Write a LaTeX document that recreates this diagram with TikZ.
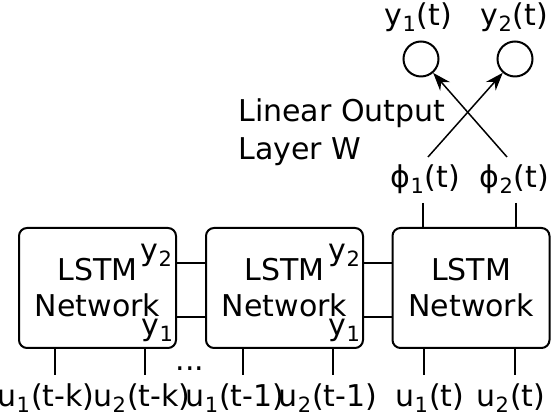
\documentclass[tikz,border=0pt]{standalone}
\usepackage{fontspec}
\setmainfont{DejaVu Sans}
\usetikzlibrary{arrows.meta}

\begin{document}
\begin{tikzpicture}[x=0.5pt, y=-0.5pt, font=\fontsize{15}{18}\selectfont,
        lstm/.style={draw, line width=1pt, rounded corners=4pt, minimum width=78.5pt, minimum height=60pt, align=center, inner sep=0pt},
        unit/.style={circle, draw, line width=1pt, minimum size=17.5pt, inner sep=0pt},
        lbl/.style={inner sep=0pt, anchor=base},
        wire/.style={line width=0.7pt},
        feed/.style={line width=1.1pt},
        weight/.style={line width=0.75pt, -{Stealth[length=9pt, width=6.5pt]}}]
        \useasboundingbox (0,0) rectangle (552,416);
        % LSTM blocks
        \node [lstm] (net1) at (97.5,288) {LSTM\\Network};
        \node [lstm] (net2) at (284.5,288) {LSTM\\Network};
        \node [lstm] (net3) at (471,288) {LSTM\\Network};
        \node [lbl] (ya2) at (157,261) {y\textsubscript{2}};
        \node [lbl] (ya1) at (158,336) {y\textsubscript{1}};
        \node [lbl] (yb2) at (345,261) {y\textsubscript{2}};
        \node [lbl] (yb1) at (345,336) {y\textsubscript{1}};
        \draw[wire] ([yshift=12.5pt]net1.east) -- ([yshift=12.5pt]net2.west);
        \draw[wire] ([yshift=-14.5pt]net1.east) -- ([yshift=-14.5pt]net2.west);
        \draw[wire] ([yshift=12.5pt]net2.east) -- ([yshift=12.5pt]net3.west);
        \draw[wire] ([yshift=-14.5pt]net2.east) -- ([yshift=-14.5pt]net3.west);
        % inputs
        \coordinate (i11) at (55,375);
        \coordinate (i12) at (145,375);
        \coordinate (i21) at (243,375);
        \coordinate (i22) at (333,375);
        \coordinate (i31) at (424,375);
        \coordinate (i32) at (515,375);
        \draw[feed] (i11) -- (i11 |- net1.south);
        \draw[feed] (i12) -- (i12 |- net1.south);
        \draw[feed] (i21) -- (i21 |- net2.south);
        \draw[feed] (i22) -- (i22 |- net2.south);
        \draw[feed] (i31) -- (i31 |- net3.south);
        \draw[feed] (i32) -- (i32 |- net3.south);
        \node [lbl] (u11) at (46,407) {u\textsubscript{1}(t-k)};
        \node [lbl] (u12) at (142,407) {u\textsubscript{2}(t-k)};
        \node [lbl] (u21) at (235,407) {u\textsubscript{1}(t-1)};
        \node [lbl] (u22) at (328,407) {u\textsubscript{2}(t-1)};
        \node [lbl] (u31) at (430,407) {u\textsubscript{1}(t)};
        \node [lbl] (u32) at (511,407) {u\textsubscript{2}(t)};
        \node [lbl] (dots) at (190,371) {...};
        % output layer
        \coordinate (f1) at (423,203);
        \coordinate (f2) at (516,203);
        \draw[feed] (f1) -- (f1 |- net3.north);
        \draw[feed] (f2) -- (f2 |- net3.north);
        \node [lbl] (phi1) at (425.5,188) {ϕ\textsubscript{1}(t)};
        \node [lbl] (phi2) at (514.5,188) {ϕ\textsubscript{2}(t)};
        \node [unit] (out1) at (421,59) {};
        \node [unit] (out2) at (515,59) {};
        \node [lbl] (yo1) at (418.5,26) {y\textsubscript{1}(t)};
        \node [lbl] (yo2) at (514.5,26) {y\textsubscript{2}(t)};
        \coordinate (s1) at (428,157);
        \coordinate (s2) at (507,157);
        \draw[weight] (s1) -- (out2);
        \draw[weight] (s2) -- (out1);
        \node [inner sep=0pt, anchor=north west, align=left, font=\fontsize{15}{19}\selectfont] (wout) at (238,98) {Linear Output\\Layer W};
    \end{tikzpicture}
\end{document}
